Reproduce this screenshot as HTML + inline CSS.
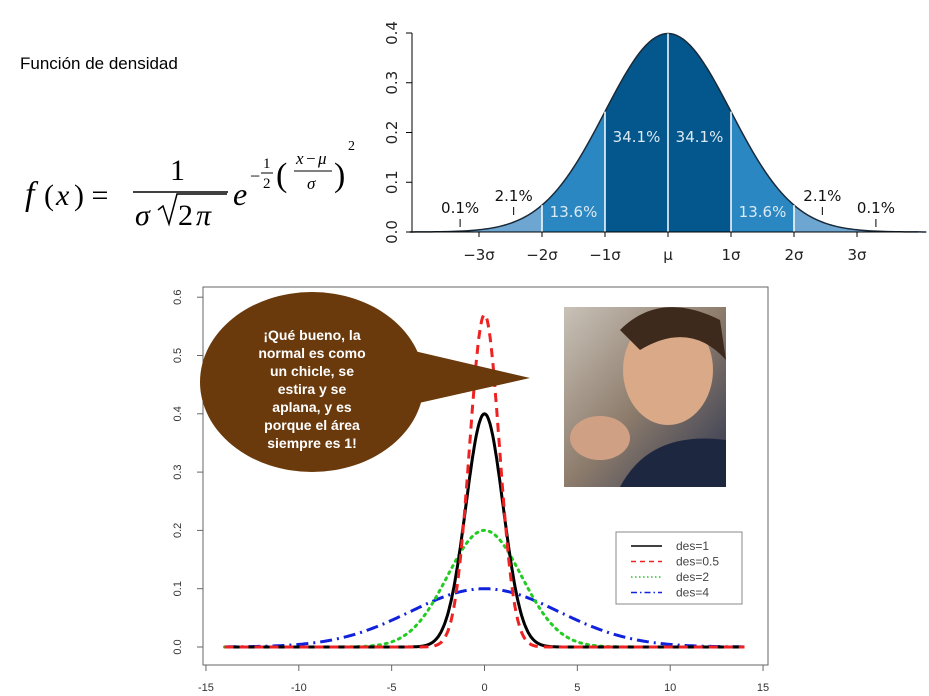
<!DOCTYPE html>
<html><head><meta charset="utf-8"><style>
body{margin:0;background:#fff;width:929px;height:696px;overflow:hidden;position:relative;font-family:"Liberation Sans",sans-serif}
.t{position:absolute}
</style></head><body>
<div class="t" style="left:20px;top:54px;font-size:17px;color:#000">Función de densidad</div>
<svg width="929" height="696" style="position:absolute;left:0;top:0" id="svg">
<g font-family="Liberation Serif, serif" font-style="italic" fill="#000">
<text x="25" y="205" font-size="34">f</text>
<text x="44" y="205" font-size="30" font-style="normal">(</text><text x="56" y="205" font-size="30">x</text><text x="74" y="205" font-size="30" font-style="normal">) =</text>
<text x="170" y="180" font-size="30" font-style="normal">1</text>
<line x1="133" y1="192" x2="228" y2="192" stroke="#000" stroke-width="1.5"/>
<text x="135" y="225" font-size="30">σ</text>
<path d="M158 210 l5 -4 l6 18 l8 -30 h50" fill="none" stroke="#000" stroke-width="1.5"/>
<text x="178" y="225" font-size="30" font-style="normal">2</text><text x="196" y="225" font-size="30">π</text>
<text x="233" y="205" font-size="32">e</text>
<text x="250" y="182" font-size="18" font-style="normal">−</text>
<text x="263" y="168" font-size="15" font-style="normal">1</text><line x1="261" y1="173" x2="273" y2="173" stroke="#000"/><text x="263" y="188" font-size="15" font-style="normal">2</text>
<text x="276" y="186" font-size="34" font-style="normal">(</text>
<text x="296" y="164" font-size="17">x</text><text x="306" y="164" font-size="17" font-style="normal">−</text><text x="318" y="164" font-size="17">μ</text>
<line x1="294" y1="171" x2="332" y2="171" stroke="#000"/><text x="307" y="189" font-size="17">σ</text>
<text x="334" y="186" font-size="34" font-style="normal">)</text>
<text x="348" y="150" font-size="14" font-style="normal">2</text>
</g>
<g id="top"></g>
<g id="bot"></g>
</svg>
<script>
const topSigmaLabels=["−3σ","−2σ","−1σ","μ","1σ","2σ","3σ"];
const topPercents=["34.1%","34.1%","13.6%","13.6%","2.1%","2.1%","0.1%","0.1%"];
const topYTicks=[0,0.1,0.2,0.3,0.4];
const botSds=[1,0.5,2,4];
const botPeaks=[0.4,0.57,0.2,0.1];
const botWidths=[1,0.8,2,4];
const botLegend=["des=1","des=0.5","des=2","des=4"];
const botXTicks=[-15,-10,-5,0,5,10,15];
const botYTicks=[0,0.1,0.2,0.3,0.4,0.5,0.6];
const NS="http://www.w3.org/2000/svg";
function mk(p,tag,at,txt){const e=document.createElementNS(NS,tag);for(const k in at)e.setAttribute(k,at[k]);if(txt!=null)e.textContent=txt;p.appendChild(e);return e;}
function pdf(x,s){return Math.exp(-0.5*(x/s)*(x/s))/(s*Math.sqrt(2*Math.PI));}
const T=document.getElementById('top');
const tx=z=>668+z*63, ty=v=>232-v*497.5;
function area(a,b,col){let d=`M${tx(a)} ${ty(0)}`;for(let z=a;z<=b+1e-9;z+=0.05)d+=` L${tx(z)} ${ty(pdf(z,1))}`;d+=` L${tx(b)} ${ty(0)} Z`;const e=mk(T,'path',{d,fill:col});}
area(-4.1,-2,'#6ea6d2');area(2,4.1,'#6ea6d2');area(-2,-1,'#2a87c1');area(1,2,'#2a87c1');area(-1,1,'#03578c');
let d="";for(let z=-4.1;z<=4.1;z+=0.05)d+=(d?" L":"M")+tx(z)+" "+ty(pdf(z,1));
const curve=mk(T,'path',{d,fill:'none',stroke:'#1a2a3a','stroke-width':1.5});

[-2,-1,0,1,2].forEach(z=>mk(T,'line',{x1:tx(z),x2:tx(z),y1:ty(0),y2:ty(pdf(z,1)),stroke:'#fff','stroke-width':1.5}));
mk(T,'line',{x1:412,y1:ty(0.4),x2:412,y2:ty(0),stroke:'#000'});
mk(T,'line',{x1:412,y1:ty(0),x2:918,y2:ty(0),stroke:'#000'});
topYTicks.forEach(v=>{mk(T,'line',{x1:406,x2:412,y1:ty(v),y2:ty(v),stroke:'#000'});const e=mk(T,'text',{x:0,y:0,transform:`translate(397,${ty(v)}) rotate(-90)`,'text-anchor':'middle','font-size':15,fill:'#222','font-family':'DejaVu Sans, sans-serif'},v.toFixed(1));});
topSigmaLabels.forEach((l,i)=>{const z=i-3;mk(T,'line',{x1:tx(z),x2:tx(z),y1:ty(0),y2:ty(0)+5,stroke:'#000'});const e=mk(T,'text',{x:tx(z),y:260,'text-anchor':'middle','font-size':15,fill:'#222','font-family':'DejaVu Sans, sans-serif'},l);});
const pPos=[[-0.5,136,'#dde9f3'],[0.5,136,'#dde9f3'],[-1.5,211,'#dde9f3'],[1.5,211,'#dde9f3'],[-2.45,195,'#111'],[2.45,195,'#111'],[-3.3,207,'#111'],[3.3,207,'#111']];
topPercents.forEach((p,i)=>{const e=mk(T,'text',{x:tx(pPos[i][0]),y:pPos[i][1]+6,'text-anchor':'middle','font-size':15,fill:pPos[i][2],'font-family':'DejaVu Sans, sans-serif'},p);if(i>=4)mk(T,'line',{x1:tx(pPos[i][0]),x2:tx(pPos[i][0]),y1:pPos[i][1]+12,y2:pPos[i][1]+20,stroke:'#000'});});
const B=document.getElementById('bot');
const bx=v=>484.5+v*18.57, by=v=>647-v*583;
mk(B,'rect',{x:203,y:287,width:565,height:378,fill:'none',stroke:'#666'});
botXTicks.forEach(v=>{mk(B,'line',{x1:bx(v),x2:bx(v),y1:665,y2:671,stroke:'#666'});const e=mk(B,'text',{x:bx(v),y:691,'text-anchor':'middle','font-size':11,fill:'#333'},v);});
botYTicks.forEach(v=>{mk(B,'line',{x1:197,x2:203,y1:by(v),y2:by(v),stroke:'#666'});const e=mk(B,'text',{x:0,y:0,transform:`translate(181,${by(v)}) rotate(-90)`,'text-anchor':'middle','font-size':11,fill:'#333'},v.toFixed(1));});
const styles=[{c:'#000',da:'none'},{c:'#ee2222',da:'9 6'},{c:'#22cc22',da:'2 5'},{c:'#1122dd',da:'12 5 2 5'}];
const order=[3,2,0,1];
order.forEach(i=>{let p="";for(let x=-14;x<=14.001;x+=0.05){const w=botWidths[i];const v=botPeaks[i]*Math.exp(-0.5*(x/w)*(x/w));p+=(p?" L":"M")+bx(x).toFixed(1)+" "+by(v).toFixed(1);}const e=mk(B,'path',{d:p,fill:'none',stroke:styles[i].c,'stroke-width':3,'stroke-dasharray':styles[i].da,'stroke-linecap':i==2?'round':'butt'});});
const lg=mk(B,'g',{});
mk(lg,'rect',{x:616,y:532,width:126,height:72,fill:'#fff',stroke:'#888'});
const lgDa=['none','5 4','1.5 2.5','6 3 1.5 3'];
botLegend.forEach((l,i)=>{const y=546+i*15.5;mk(lg,'line',{x1:631,x2:662,y1:y,y2:y,stroke:styles[i].c,'stroke-width':1.5,'stroke-dasharray':lgDa[i]});const e=mk(lg,'text',{x:676,y:y+4,'font-size':12,fill:'#444'},l);});
const ph=mk(B,'g',{});
mk(ph,'defs',{}).innerHTML='<linearGradient id="pg" x1="0" y1="0" x2="1" y2="1"><stop offset="0" stop-color="#c9c2b8"/><stop offset="0.5" stop-color="#8d7c6c"/><stop offset="1" stop-color="#2c3550"/></linearGradient>';
mk(ph,'rect',{x:564,y:307,width:162,height:180,fill:'url(#pg)'});
mk(ph,'ellipse',{cx:668,cy:370,rx:45,ry:55,fill:'#d9a988'});
mk(ph,'path',{d:'M620 330 Q660 290 720 320 L726 360 Q690 320 640 350 Z',fill:'#3e2a1c'});
mk(ph,'ellipse',{cx:600,cy:438,rx:30,ry:22,fill:'#d0a084'});
mk(ph,'path',{d:'M620 487 Q650 430 726 440 L726 487 Z',fill:'#1e2740'});
const bb=mk(B,'g',{});
mk(bb,'path',{d:'M410 350 L530 378 L410 405 Z',fill:'#6b3a0c'});
mk(bb,'ellipse',{cx:312,cy:382,rx:112,ry:90,fill:'#6b3a0c'});
["¡Qué bueno, la","normal es como","un chicle, se","estira y se","aplana, y es","porque el área","siempre es 1!"].forEach((l,i)=>mk(bb,'text',{x:312,y:340+i*18,'text-anchor':'middle','font-size':14,'font-weight':'bold',fill:'#fff'},l));
</script>
</body></html>
